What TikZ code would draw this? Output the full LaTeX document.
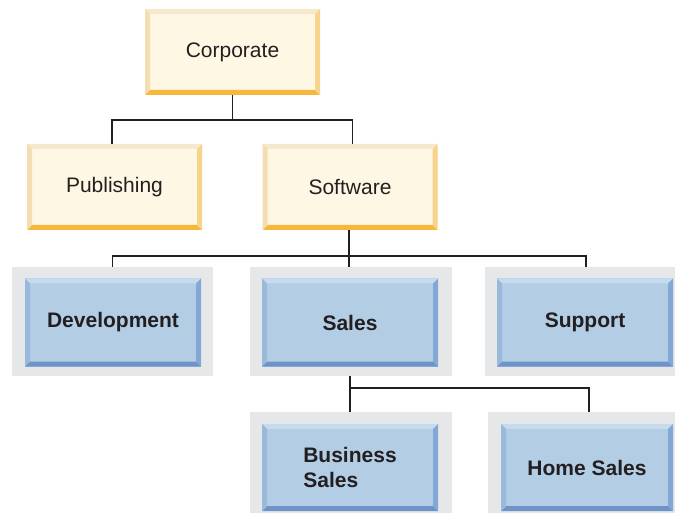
\documentclass[tikz,border=0pt]{standalone}
\usepackage{fontspec}
\setmainfont{Liberation Sans}
\definecolor{txt}{HTML}{231F20}
\definecolor{yfill}{HTML}{FEF7E4}
\definecolor{ytop}{HTML}{F6E8CC}
\definecolor{yleft}{HTML}{F3DDB3}
\definecolor{yright}{HTML}{F8D38B}
\definecolor{ybot}{HTML}{F7B73C}
\definecolor{bfill}{HTML}{B3CDE5}
\definecolor{btop}{HTML}{C6DBEE}
\definecolor{bleft}{HTML}{9ABADC}
\definecolor{bright}{HTML}{84A8D4}
\definecolor{bbot}{HTML}{6D93C8}
\definecolor{grayback}{HTML}{E6E7E8}
\newcommand{\bvw}{5pt}
\tikzset{
  bevelbox/.style n args={5}{rectangle, inner sep=0pt, fill=#1, text=txt,
    font=\fontsize{21}{25}\selectfont, align=left,
    path picture={
      \fill[#2] (path picture bounding box.north west) -- (path picture bounding box.north east)
        -- ([shift={(-\bvw,-\bvw)}]path picture bounding box.north east)
        -- ([shift={(\bvw,-\bvw)}]path picture bounding box.north west) -- cycle;
      \fill[#5] (path picture bounding box.south west) -- (path picture bounding box.south east)
        -- ([shift={(-\bvw,\bvw)}]path picture bounding box.south east)
        -- ([shift={(\bvw,\bvw)}]path picture bounding box.south west) -- cycle;
      \fill[#3] (path picture bounding box.north west) -- (path picture bounding box.south west)
        -- ([shift={(\bvw,\bvw)}]path picture bounding box.south west)
        -- ([shift={(\bvw,-\bvw)}]path picture bounding box.north west) -- cycle;
      \fill[#4] (path picture bounding box.north east) -- (path picture bounding box.south east)
        -- ([shift={(-\bvw,\bvw)}]path picture bounding box.south east)
        -- ([shift={(-\bvw,-\bvw)}]path picture bounding box.north east) -- cycle;
    }},
  ybox/.style={bevelbox={yfill}{ytop}{yleft}{yright}{ybot}, minimum width=175pt, minimum height=86pt},
  bbox/.style={bevelbox={bfill}{btop}{bleft}{bright}{bbot}, minimum width=176pt, minimum height=88pt, font=\fontsize{21}{25}\selectfont\bfseries},
  gback/.style={rectangle, inner sep=0pt, fill=grayback},
  conn/.style={draw=txt, line width=1.7pt}
}
\begin{document}
\begin{tikzpicture}[x=1pt,y=-1pt]
\useasboundingbox (0,0) rectangle (675,513);
% yellow boxes
\node[ybox] (corp) at (232.5,52) {Corporate};
\node[ybox] (pub) at (114.5,187) {Publishing};
\node[ybox] (soft) at (350,187) {Software};
% gray backgrounds
\node[gback, minimum width=201pt, minimum height=109pt] (gdev) at (112.5,321.5) {};
\node[gback, minimum width=202pt, minimum height=109pt] (gsales) at (351,321.5) {};
\node[gback, minimum width=190pt, minimum height=109pt] (gsup) at (580,321.5) {};
\node[gback, minimum width=202pt, minimum height=101pt] (gbus) at (351,462.5) {};
\node[gback, minimum width=187pt, minimum height=101pt] (ghome) at (581.5,462.5) {};
% blue boxes
\node[bbox] (dev) at (113,322.5) {Development};
\node[bbox] (sales) at (350,322.5) {Sales};
\node[bbox] (sup) at (585,322.5) {Support};
\node[bbox, minimum height=87pt] (bus) at (350,467.5) {Business\\Sales};
\node[bbox, minimum width=172pt, minimum height=87pt] (home) at (587,467.5) {Home Sales};
% connectors
\coordinate (j1) at (232.5,120);
\coordinate (j2) at (349,256);
\coordinate (j3) at (350,388);
\draw[conn] (corp.south) -- (j1);
\draw[conn] ([xshift=-2.5pt]pub.north) |- (j1) -| ([xshift=2.5pt]soft.north);
\draw[conn] ([xshift=-1pt]soft.south) -- (j2);
\draw[conn] (gdev.north) |- (j2) -| ([xshift=1pt]sup.north |- gsup.north);
\draw[conn] (j2) -- (j2 |- gsales.north);
\draw[conn] (sales.south |- gsales.south) -- (j3);
\draw[conn] (gbus.north -| bus.north) |- (j3) -| ([xshift=2pt]home.north |- ghome.north);
\end{tikzpicture}
\end{document}
